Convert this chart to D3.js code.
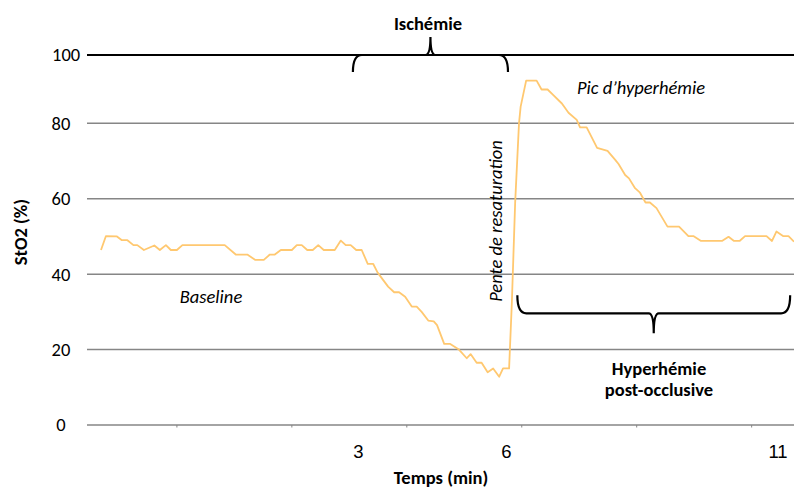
<!DOCTYPE html>
<html>
<head>
<meta charset="utf-8">
<script src="https://cdn.jsdelivr.net/npm/d3@7"></script>
<style>
  html, body { margin: 0; padding: 0; background: #fff; }
  svg { display: block; font-family: Carlito, Calibri, Lato, "Open Sans", sans-serif; }
</style>
</head>
<body>
<svg id="chart" width="794" height="490"></svg>
<script>
// ---- data (sample index vs StO2 %) ----
const sampleIdx = [0,0.9,2.9,3.8,4.8,5.9,6.6,7.8,9.7,10.7,11.8,12.7,13.8,14.8,22.5,24.5,26.6,28.0,29.6,30.7,31.6,32.7,34.7,35.6,36.5,37.5,38.5,39.5,40.5,42.5,43.6,44.5,45.4,46.4,47.4,48.5,49.5,50.3,52.2,53.3,54.2,55.3,56.5,57.4,58.3,59.5,60.5,61.1,62.4,63.5,65.0,66.5,67.2,68.3,69.2,70.3,71.3,72.4,73.1,74.2,74.7,75.3,76.0,76.3,77.3,79.2,80.1,81.2,82.2,83.8,85.0,86.5,87.1,88.3,90.2,92.1,93.5,94.1,95.3,96.0,97.1,98.0,99.0,99.8,101.0,103.0,105.1,106.8,107.7,109.1,112.9,114.1,115.1,116.1,117.1,121.0,122.0,122.8,124.0,125.0,126.0];
const stO2 = [46.4,50.1,50.0,49.0,49.0,47.7,47.7,46.4,47.6,46.4,47.7,46.4,46.4,47.7,47.7,45.2,45.2,43.8,43.8,45.2,45.2,46.4,46.4,47.7,47.7,46.4,46.4,47.7,46.4,46.4,48.9,47.7,47.7,46.4,46.4,42.7,42.7,40.4,36.7,35.2,35.2,34.0,31.4,31.4,30.0,27.7,27.5,26.5,21.5,21.5,20.1,17.7,18.8,16.5,16.5,14.0,15.0,12.8,15.0,15.0,32.4,58.9,80.0,84.9,92.5,92.5,89.9,89.9,88.3,85.8,83.1,81.0,78.9,78.9,73.5,72.7,70.3,69.2,66.3,65.4,62.8,61.6,59.0,59.0,57.5,52.6,52.6,50.1,50.1,48.8,48.8,49.9,48.8,48.8,50.1,50.1,48.8,51.3,50.1,50.1,48.6];

const yTicks = [0, 20, 40, 60, 80, 100];
const xTickPos = [46.7, 73.6, 123];
const xTickLabels = ["3", "6", "11"];
const xMinorTicks = [13.8, 34.7, 55.6, 76.5, 97.4, 118.3];

// annotations (in data units)
const ischemiaSpan = [45.8, 74.0];      // top brace, at StO2 = 100
const hyperSpan = [75.7, 125.3];        // bottom brace
const hyperBraceLevel = 29.6;

// ---- layout ----
const FS = 18.5;
const svg = d3.select("#chart");
const plotLeft = 87, plotRight = 794;

const x = d3.scaleLinear().domain([0, 126]).range([101, 794]);
const y = d3.scaleLinear().domain([0, 80, 100]).range([425, 123.3, 55]);

// gridlines
svg.append("g").selectAll("line").data(yTicks).join("line")
  .attr("x1", plotLeft).attr("x2", plotRight)
  .attr("y1", d => y(d)).attr("y2", d => y(d))
  .attr("stroke", d => d === 100 ? "#000" : "#868686")
  .attr("stroke-width", d => d === 100 ? 1.8 : 1.5);

// y labels
svg.append("g").selectAll("text").data(yTicks).join("text")
  .attr("x", d => d === 100 ? 52 : 61)
  .attr("y", d => y(d))
  .attr("dy", "0.35em")
  .attr("text-anchor", d => d === 100 ? "start" : "middle")
  .attr("font-size", FS)
  .attr("fill", "#000")
  .text(d => d);

// x axis labels
const xAxis = d3.axisBottom(x)
  .tickValues(xTickPos)
  .tickFormat((d, i) => xTickLabels[i])
  .tickSize(0)
  .tickPadding(20);
const gx = svg.append("g").attr("transform", `translate(0,${y(0)})`).call(xAxis);
gx.select(".domain").remove();
gx.selectAll("text").attr("font-size", FS).attr("fill", "#000").attr("font-family", null);

// minor tick marks
svg.append("g").selectAll("line").data(xMinorTicks).join("line")
  .attr("x1", d => x(d)).attr("x2", d => x(d))
  .attr("y1", y(0)).attr("y2", y(0) + 2.5)
  .attr("stroke", "#868686").attr("stroke-width", 1);

// axis titles
svg.append("text")
  .attr("x", 441).attr("y", 484)
  .attr("text-anchor", "middle")
  .attr("font-size", FS).attr("font-weight", "bold")
  .text("Temps (min)");

svg.append("text")
  .attr("transform", "translate(27,232) rotate(-90)")
  .attr("text-anchor", "middle")
  .attr("font-size", FS).attr("font-weight", "bold")
  .text("StO2 (%)");

// data line
const pts = sampleIdx.map((d, i) => [d, stO2[i]]);
svg.append("path")
  .datum(pts)
  .attr("fill", "none")
  .attr("stroke", "#FFC870")
  .attr("stroke-width", 1.8)
  .attr("stroke-linejoin", "round")
  .attr("d", d3.line().x(d => x(d[0])).y(d => y(d[1])));

// braces
function brace(x1, x2, y0, dir, endLen, cuspLen) {
  const xm = (x1 + x2) / 2;
  const e = endLen * dir, c = -cuspLen * dir;
  return `M${x1},${y0 + e} Q${x1},${y0} ${x1 + 9},${y0} L${xm - 5},${y0} Q${xm},${y0} ${xm},${y0 + c} Q${xm},${y0} ${xm + 5},${y0} L${x2 - 9},${y0} Q${x2},${y0} ${x2},${y0 + e}`;
}
svg.append("path")
  .attr("d", brace(x(ischemiaSpan[0]), x(ischemiaSpan[1]), y(100), 1, 17, 18))
  .attr("fill", "none").attr("stroke", "#000").attr("stroke-width", 2.2);

svg.append("path")
  .attr("d", brace(x(hyperSpan[0]), x(hyperSpan[1]), y(hyperBraceLevel), -1, 18, 20))
  .attr("fill", "none").attr("stroke", "#000").attr("stroke-width", 2.2);

// annotation texts
svg.append("text")
  .attr("x", 428).attr("y", 30)
  .attr("text-anchor", "middle")
  .attr("font-size", FS).attr("font-weight", "bold")
  .text("Ischémie");

svg.append("text")
  .attr("x", 659).attr("y", 375)
  .attr("text-anchor", "middle")
  .attr("font-size", FS).attr("font-weight", "bold")
  .text("Hyperhémie");
svg.append("text")
  .attr("x", 659).attr("y", 396)
  .attr("text-anchor", "middle")
  .attr("font-size", FS).attr("font-weight", "bold")
  .text("post-occlusive");

svg.append("text")
  .attr("x", 211).attr("y", 303)
  .attr("text-anchor", "middle")
  .attr("font-size", FS).attr("font-style", "italic")
  .text("Baseline");

svg.append("text")
  .attr("x", 641).attr("y", 94)
  .attr("text-anchor", "middle")
  .attr("font-size", FS).attr("font-style", "italic")
  .text("Pic d\u2019hyperhémie");

svg.append("text")
  .attr("transform", "translate(502,221) rotate(-90)")
  .attr("text-anchor", "middle")
  .attr("font-size", FS).attr("font-style", "italic")
  .text("Pente de resaturation");
</script>
</body>
</html>
